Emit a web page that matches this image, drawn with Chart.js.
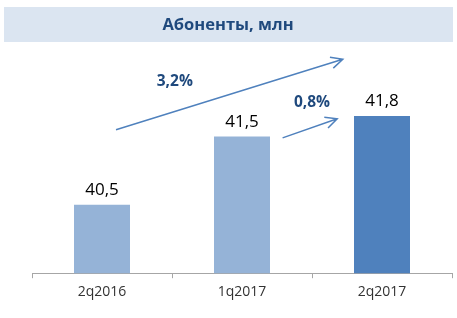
<!DOCTYPE html>
<html>
<head>
<meta charset="utf-8">
<script src="https://cdn.jsdelivr.net/npm/chart.js@4.4.1/dist/chart.umd.min.js"></script>
<style>
  html, body { margin: 0; padding: 0; background: #ffffff; }
  #wrap { position: relative; width: 457px; height: 318px; }
</style>
</head>
<body>
<div id="wrap"><canvas id="chart" width="457" height="318"></canvas></div>
<script>
// data
const categories = ["2q2016", "1q2017", "2q2017"];
const subscribers = [40.5, 41.5, 41.8];
const valueLabels = ["40,5", "41,5", "41,8"];
const barColors = ["#95b3d7", "#95b3d7", "#4f81bd"];
const titleText = "Абоненты, млн";

// growth arrows, in data units (x = category index, y = value)
const growthLabels = ["3,2%", "0,8%"];
const arrowFrom = [[0.1, 41.6], [1.29, 41.48]];
const arrowTo = [[1.72, 42.63], [1.68, 41.76]];
const growthLabelAt = [[0.52, 42.3], [1.5, 41.99]];

const FONT = "'Open Sans', 'DejaVu Sans', sans-serif";

const decorPlugin = {
    id: "decor",
    beforeDraw: (chart) => {
        const { ctx } = chart;
        ctx.save();
        ctx.fillStyle = "#dbe5f1";
        ctx.fillRect(4, 7, 449, 35);
        ctx.font = "bold 16.5px " + FONT;
        ctx.fillStyle = "#1f497d";
        ctx.textAlign = "center";
        ctx.textBaseline = "middle";
        ctx.fillText(titleText, 228, 25);
        ctx.restore();
    },
    afterDatasetsDraw: (chart) => {
        const { ctx, scales } = chart;
        const x = scales.x, y = scales.y;
        ctx.save();
        // value labels over bars
        ctx.font = "17px " + FONT;
        ctx.fillStyle = "#000000";
        ctx.textAlign = "center";
        ctx.textBaseline = "bottom";
        subscribers.forEach((v, i) => {
            ctx.fillText(valueLabels[i], x.getPixelForValue(i), y.getPixelForValue(v) - 6);
        });
        // arrows
        ctx.strokeStyle = "#4f81bd";
        ctx.lineWidth = 1.5;
        arrowFrom.forEach((from, i) => {
            const x0 = x.getPixelForValue(from[0]), y0 = y.getPixelForValue(from[1]);
            const x1 = x.getPixelForValue(arrowTo[i][0]), y1 = y.getPixelForValue(arrowTo[i][1]);
            const a = Math.atan2(y1 - y0, x1 - x0);
            const head = 13, spread = 0.45;
            ctx.beginPath();
            ctx.moveTo(x0, y0);
            ctx.lineTo(x1, y1);
            ctx.moveTo(x1 - head * Math.cos(a - spread), y1 - head * Math.sin(a - spread));
            ctx.lineTo(x1, y1);
            ctx.lineTo(x1 - head * Math.cos(a + spread), y1 - head * Math.sin(a + spread));
            ctx.stroke();
        });
        ctx.font = "bold 15.5px " + FONT;
        ctx.fillStyle = "#1f497d";
        ctx.textBaseline = "middle";
        growthLabels.forEach((t, i) => {
            ctx.fillText(t, x.getPixelForValue(growthLabelAt[i][0]), y.getPixelForValue(growthLabelAt[i][1]));
        });
        ctx.restore();
    },
};

new Chart(document.getElementById("chart"), {
    type: "bar",
    data: {
        labels: categories,
        datasets: [{
            data: subscribers,
            backgroundColor: barColors,
            borderWidth: 0,
            barPercentage: 0.4,
            categoryPercentage: 1,
        }],
    },
    options: {
        responsive: false,
        animation: false,
        layout: { padding: { left: 32, right: 5, top: 34, bottom: 13 } },
        plugins: {
            legend: { display: false },
            tooltip: { enabled: false },
        },
        scales: {
            x: {
                grid: {
                    display: true,
                    drawOnChartArea: false,
                    offset: true,
                    tickLength: 5,
                    color: "#a6a6a6",
                },
                border: { color: "#a6a6a6" },
                ticks: { color: "#333333", font: { family: FONT, size: 14 }, padding: 5 },
            },
            y: {
                display: false,
                min: 39.5,
                max: 43,
            },
        },
    },
    plugins: [decorPlugin],
});
</script>
</body>
</html>
